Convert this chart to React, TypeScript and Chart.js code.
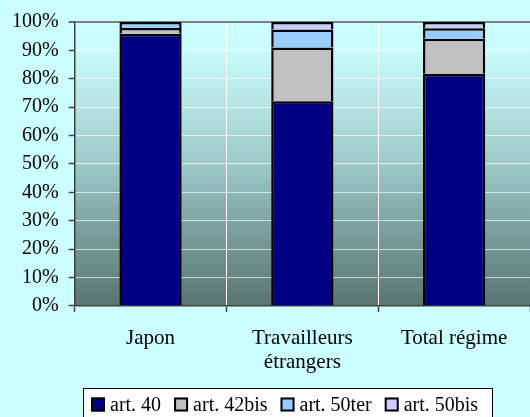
import React, { useEffect, useRef } from "react";
import { Chart, registerables } from "chart.js";

Chart.register(...registerables);

const categories: (string | string[])[] = ["Japon", ["Travailleurs", "étrangers"], "Total régime"];
const seriesLabels = ["art. 40", "art. 42bis", "art. 50ter", "art. 50bis"];
const art40 = [95.9, 72.1, 81.8];
const art42bis = [2.0, 18.9, 12.3];
const art50ter = [2.1, 6.4, 3.7];
const art50bis = [0, 2.6, 2.2];
const seriesColors = ["#000080", "#C0C0C0", "#99CCFF", "#CCCCFF"];
const yTickValues = [0, 10, 20, 30, 40, 50, 60, 70, 80, 90, 100];

const FONT = "'Liberation Serif', 'Times New Roman', serif";

const gradientPlugin = {
  id: "plotGradient",
  beforeDraw(chart: any) {
    const { ctx, chartArea } = chart;
    if (!chartArea) return;
    const g = ctx.createLinearGradient(0, chartArea.top, 0, chartArea.bottom);
    g.addColorStop(0, "#CCFFFF");
    g.addColorStop(0.1, "#C9FBFB");
    g.addColorStop(0.3, "#B4E3E2");
    g.addColorStop(0.5, "#9DCAC9");
    g.addColorStop(0.7, "#7FA5A4");
    g.addColorStop(0.9, "#658583");
    g.addColorStop(1, "#5A7472");
    ctx.save();
    ctx.fillStyle = g;
    ctx.fillRect(chartArea.left, chartArea.top, chartArea.right - chartArea.left, chartArea.bottom - chartArea.top);
    ctx.restore();
  },
};

const legendPlugin = {
  id: "boxLegend",
  afterDraw(chart: any) {
    const { ctx } = chart;
    const boxL = 83.5, boxT = 388.5, boxR = 492.5, boxB = 425;
    ctx.save();
    ctx.fillStyle = "#FFFFFF";
    ctx.fillRect(boxL, boxT, boxR - boxL, boxB - boxT);
    ctx.strokeStyle = "#000000";
    ctx.lineWidth = 1;
    ctx.strokeRect(boxL, boxT, boxR - boxL, boxB - boxT);
    ctx.font = `20px ${FONT}`;
    ctx.textBaseline = "middle";
    ctx.textAlign = "left";
    let x = 91;
    const cy = 405;
    chart.data.datasets.forEach((ds: any) => {
      const s = 14;
      ctx.fillStyle = ds.backgroundColor;
      ctx.fillRect(x, cy - s / 2 - 0.5, s, s);
      ctx.strokeStyle = "#000";
      ctx.lineWidth = 2;
      ctx.strokeRect(x + 1, cy - s / 2 + 0.5, s - 2, s - 2);
      x += s + 5;
      ctx.fillStyle = "#000";
      ctx.fillText(ds.label, x, cy + 1);
      x += ctx.measureText(ds.label).width + 13;
    });
    ctx.restore();
  },
};

export default function App() {
  const ref = useRef<HTMLCanvasElement>(null);
  useEffect(() => {
    document.body.style.margin = "0";
    const values = [art40, art42bis, art50ter, art50bis];
    const chart = new Chart(ref.current as HTMLCanvasElement, {
      type: "bar",
      data: {
        labels: categories as any,
        datasets: seriesLabels.map((label, i) => ({
          label,
          data: values[i],
          backgroundColor: seriesColors[i],
          borderColor: "#000000",
          borderWidth: 2.5,
          barPercentage: 0.41,
          categoryPercentage: 1,
        })),
      },
      options: {
        animation: false,
        responsive: false,
        maintainAspectRatio: false,
        layout: { padding: { left: 2, top: 12, right: 0, bottom: 28 } },
        plugins: {
          legend: { display: false },
          tooltip: { enabled: false },
        },
        scales: {
          x: {
            stacked: true,
            offset: true,
            grid: {
              offset: true,
              color: "#FFFFFF",
              lineWidth: 1,
              tickColor: "#404040",
              tickLength: 6,
              tickWidth: 1.5,
            },
            border: { color: "#404040", width: 1.5 },
            ticks: {
              color: "#000",
              font: { family: FONT, size: 21, lineHeight: 1.12 },
              padding: 15,
              maxRotation: 0,
              autoSkip: false,
            },
          },
          y: {
            stacked: true,
            min: 0,
            max: 100,
            afterBuildTicks: (axis: any) => {
              axis.ticks = yTickValues.map((v) => ({ value: v }));
            },
            grid: {
              color: (c: any) => (c.tick && c.tick.value === 100 ? "#808080" : "rgba(255,255,255,0.65)"),
              lineWidth: (c: any) => (c.tick && c.tick.value === 100 ? 2 : 1),
              tickColor: "#404040",
              tickLength: 6,
              tickWidth: 1.5,
            },
            border: { color: "#404040", width: 1.5 },
            ticks: {
              color: "#000",
              font: { family: FONT, size: 20 },
              padding: 10,
              autoSkip: false,
              callback: (v: any) => `${v}%`,
            },
          },
        },
      },
      plugins: [gradientPlugin, legendPlugin],
    });
    return () => chart.destroy();
  }, []);
  return (
    <div style={{ position: "absolute", left: 0, top: 0, width: 530, height: 417, background: "#CCFFFF" }}>
      <canvas ref={ref} width={530} height={417} style={{ width: 530, height: 417, display: "block" }} />
    </div>
  );
}
